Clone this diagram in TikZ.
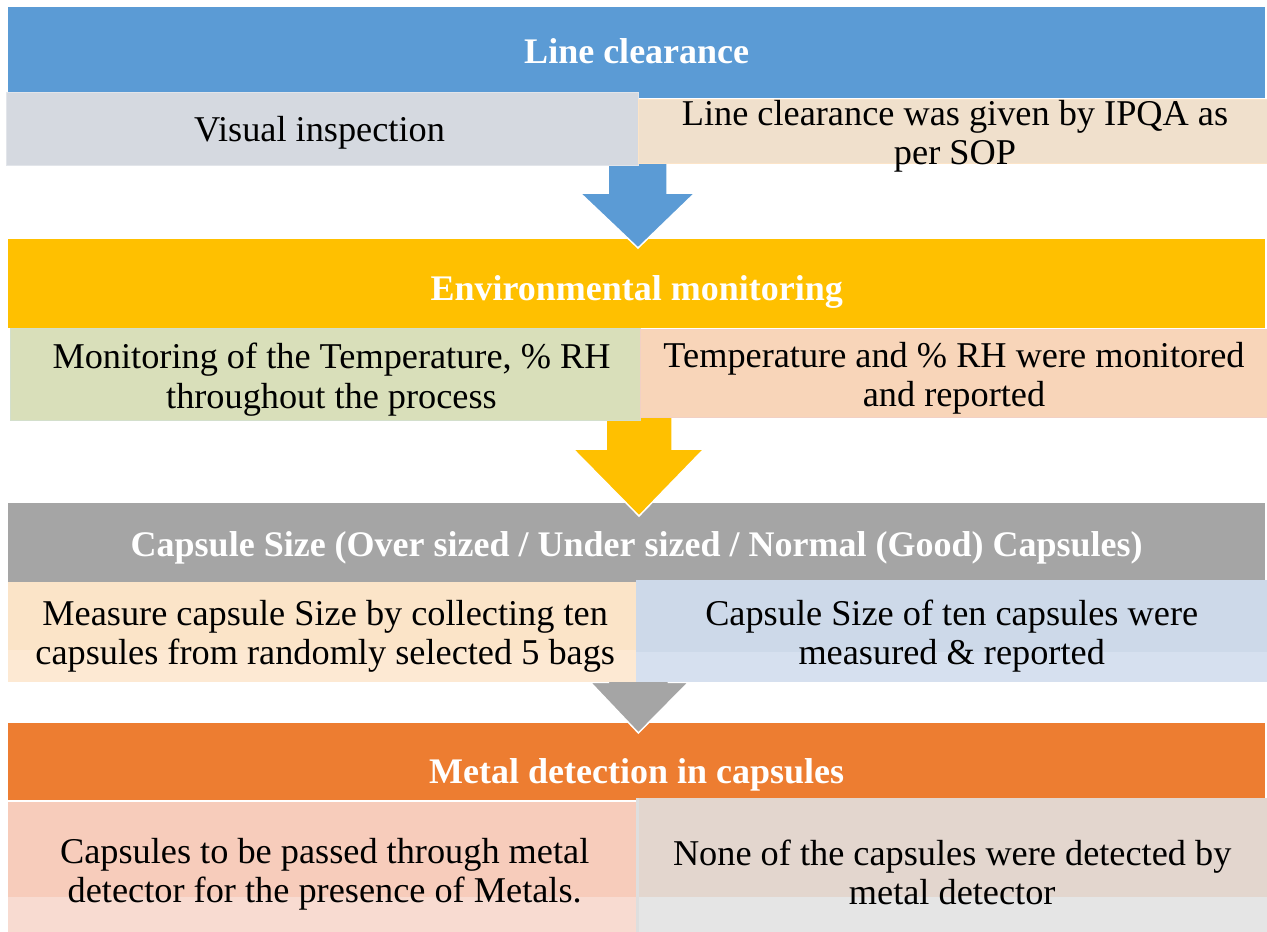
\documentclass[tikz,border=0pt]{standalone}
\usepackage{fontspec}
\setmainfont{Liberation Serif}
\usetikzlibrary{calc}
\pgfdeclarelayer{back}\pgfdeclarelayer{mid}
\pgfsetlayers{back,mid,main}
\definecolor{hblue}{HTML}{5B9BD5}
\definecolor{hyellow}{HTML}{FFC000}
\definecolor{hgrey}{HTML}{A5A5A5}
\definecolor{horange}{HTML}{ED7D31}
\definecolor{cgreyblue}{HTML}{D5D9E0}
\definecolor{cgreyblueb}{HTML}{E2E5EA}
\definecolor{cbeige}{HTML}{F0E0CC}
\definecolor{cbeigeb}{HTML}{FCE4C8}
\definecolor{cgreen}{HTML}{D9DFBA}
\definecolor{cgreenb}{HTML}{D3DFCC}
\definecolor{cpeach}{HTML}{F8D5B9}
\definecolor{cpeachb}{HTML}{F2D0C4}
\definecolor{ccream}{HTML}{FBE4C8}
\definecolor{ccreamlow}{HTML}{FDE9D3}
\definecolor{clblue}{HTML}{CDD9E9}
\definecolor{clbluelow}{HTML}{D6E0EF}
\definecolor{csalmon}{HTML}{F7CCBB}
\definecolor{csalmonlow}{HTML}{F8DBD1}
\definecolor{ctaupe}{HTML}{E3D6CE}
\definecolor{ctaupelow}{HTML}{E5E5E5}
\definecolor{ctaupeb}{HTML}{DEDEDE}
\begin{document}
\begin{tikzpicture}[x=1pt,y=-1pt,
  hdr/.style={anchor=north west,inner sep=0pt},
  hdrtxt/.style={inner sep=0pt,text=white,font=\fontsize{36}{39.5}\selectfont\bfseries},
  cell/.style={anchor=north west,inner sep=0pt},
  txt/.style={inner sep=0pt,align=center,font=\fontsize{36.3}{39.5}\selectfont},
  lowband/.style n args={2}{path picture={\fill[#1] ($(path picture bounding box.south west)$) rectangle ($(path picture bounding box.south east)+(0,-#2)$);}},
  flow/.style={draw=white,line width=1.5pt,line join=miter}]
\useasboundingbox (0,0) rectangle (1267,932);

\begin{pgfonlayer}{back}
\node[hdr,fill=hblue,minimum width=1257pt,minimum height=91pt] (h1) at (8,7) {};
\node[hdrtxt] (ht1) at ($(h1.center)+(0,-2)$) {Line clearance};
\node[hdr,fill=hyellow,minimum width=1257pt,minimum height=89pt] (h2) at (8,239) {};
\node[hdrtxt] (ht2) at ($(h2.center)+(0,8)$) {Environmental monitoring};
\node[hdr,fill=hgrey,minimum width=1257pt,minimum height=79pt] (h3) at (8,503) {};
\node[hdrtxt] (ht3) at ($(h3.center)+(0,5)$) {Capsule Size (Over sized / Under sized / Normal (Good) Capsules)};
\node[hdr,fill=horange,minimum width=1257pt,minimum height=77pt] (h4) at (8,723) {};
\node[hdrtxt] (ht4) at ($(h4.center)+(0,13)$) {Metal detection in capsules};
\end{pgfonlayer}

\node[cell,fill=cgreyblue,draw=cgreyblueb,line width=1pt,minimum width=632pt,minimum height=73pt] (b1l) at (6,92) {};
\node[cell,fill=cbeige,draw=cbeigeb,line width=1pt,minimum width=629pt,minimum height=64pt] (b1r) at (638,99) {};
\node[txt] (t1l) at ($(b1l.center)+(-3,4)$) {Visual inspection};
\node[txt] (t1r) at ($(b1r.center)+(2,5)$) {Line clearance was given by IPQA as\\per SOP};

\node[cell,fill=cgreen,draw=cgreenb,line width=1pt,minimum width=630pt,minimum height=92pt] (b2l) at (10,328) {};
\node[cell,fill=cpeach,draw=cpeachb,line width=1pt,minimum width=627pt,minimum height=88pt] (b2r) at (640,329) {};
\node[txt] (t2l) at ($(b2l.center)+(6,5)$) {Monitoring of the Temperature, \% RH\\throughout the process};
\node[txt] (t2r) at ($(b2r.center)+(0,5)$) {Temperature and \% RH were monitored\\and reported};

\node[cell,fill=ccream,lowband={ccreamlow}{32},minimum width=630pt,minimum height=100pt] (b3l) at (8,582) {};
\node[cell,fill=clblue,lowband={clbluelow}{30},minimum width=631pt,minimum height=102pt] (b3r) at (636,580) {};
\node[txt] (t3l) at ($(b3l.center)+(2,4)$) {Measure capsule Size by collecting ten\\capsules from randomly selected 5 bags};
\node[txt] (t3r) at ($(b3r.center)+(0,5)$) {Capsule Size of ten capsules were\\measured \& reported};

\node[cell,fill=csalmon,lowband={csalmonlow}{35},minimum width=629pt,minimum height=130pt] (b4l) at (8,802) {};
\node[cell,fill=ctaupe,lowband={ctaupelow}{35},minimum width=630pt,minimum height=134pt] (b4r) at (637,798) {};
\draw[ctaupeb,line width=3pt] (b4r.north west) -- (b4r.south west);
\node[txt] (t4l) at ($(b4l.center)+(2,7)$) {Capsules to be passed through metal\\detector for the presence of Metals.};
\node[txt] (t4r) at ($(b4r.center)+(0,7)$) {None of the capsules were detected by\\metal detector};

\begin{pgfonlayer}{mid}
\coordinate (j1) at (b1r.south west);
\filldraw[flow,fill=hblue] ($(j1)+(-30,-10)$) -- ($(j1)+(29,-10)$) -- ($(j1)+(29,29)$) -- ($(j1)+(57,29)$) -- ($(j1|-h2.north)+(0,9)$) -- ($(j1)+(-58,29)$) -- ($(j1)+(-30,29)$) -- cycle;
\coordinate (j2) at ($(b2l.south east)+(-2,0)$);
\filldraw[flow,fill=hyellow] ($(j2)+(-33,-10)$) -- ($(j2)+(33,-10)$) -- ($(j2)+(33,28)$) -- ($(j2)+(65,28)$) -- ($(j2|-h3.north)+(0,13)$) -- ($(j2)+(-66,28)$) -- ($(j2)+(-33,28)$) -- cycle;
\coordinate (j3) at (b3l.south east);
\filldraw[flow,fill=hgrey] ($(j3)+(-30,-10)$) -- ($(j3)+(30,-10)$) -- ($(j3)+(30,0)$) -- ($(j3)+(50,0)$) -- ($(j3|-h4.north)+(0,10)$) -- ($(j3)+(-48,0)$) -- ($(j3)+(-30,0)$) -- cycle;
\end{pgfonlayer}
\end{tikzpicture}
\end{document}
